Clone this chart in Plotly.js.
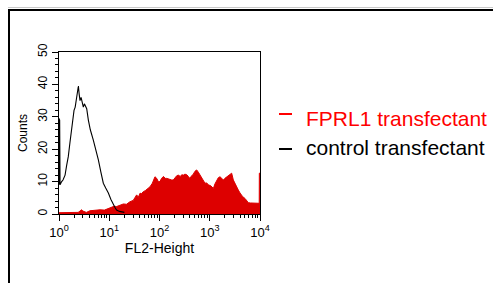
<!DOCTYPE html>
<html>
<head>
<meta charset="utf-8">
<script src="https://cdn.plot.ly/plotly-3.0.1.min.js"></script>
<style>
  html, body { margin: 0; padding: 0; background: #fff; overflow: hidden; }
  #wrap { position: relative; width: 493px; height: 283px; }
  #chart { position: absolute; left: 0; top: 0; width: 493px; height: 283px; }
  #frame { position: absolute; left: 8px; top: 9px; width: 600px; height: 400px;
           border-left: 2px solid #000; border-top: 2px solid #000; pointer-events: none; }
  #shade { position: absolute; left: 8px; top: 7px; width: 600px; height: 1px; background: #c8c8c8; }
</style>
</head>
<body>
<div id="wrap">
  <div id="chart"></div>
  <div id="shade"></div>
  <div id="frame"></div>
</div>
<script>
// Series names
const seriesNames = ['FPRL1 transfectant', 'control transfectant'];

// FPRL1 transfectant (filled red histogram): FL2-Height vs counts
const fprlX = [1, 1.5, 2.0, 2.4, 2.62, 2.8, 3.0, 3.29, 3.5, 4.14, 5.0, 6.55, 8.0, 9.6, 11, 12.5, 14, 16.5, 19.1, 22,
  25.9, 30, 35.1, 38, 40.9, 44, 47.6, 52, 58, 64.7, 72, 77, 81.3, 88, 94.8, 102, 110, 120, 130, 139,
  150, 162, 175, 188, 205, 220, 236, 260, 276, 300, 321, 350, 375, 400, 437, 470, 509, 550, 593, 640,
  690, 745, 804, 870, 937, 1050, 1180, 1270, 1374, 1480, 1600, 1730, 1864, 2000, 2172, 2350, 2531, 2730, 2947, 3200,
  3435, 3700, 4000, 4500, 5027, 5430, 5859, 6500, 7366, 8200, 9250, 9650, 9700, 10000];
const fprlY = [0.4, 0.4, 0.4, 0.5, 0.9, 1.3, 0.9, 0.5, 0.5, 1.0, 1.2, 1.3, 1.2, 1.7, 2.0, 2.4, 2.3, 2.7, 3.1, 3.0,
  3.8, 4.2, 5.9, 5.2, 6.4, 6.3, 6.9, 7.2, 7.8, 8.4, 9.5, 10.6, 11.5, 11.0, 10.0, 10.0, 11.0, 11.6, 11.0, 11.0,
  10.8, 10.5, 10.5, 10.5, 11.4, 11.8, 12.0, 11.6, 12.1, 12.0, 12.3, 12.1, 11.6, 11.0, 11.8, 12.3, 13.2, 13.6, 12.9, 12.0,
  11.0, 10.3, 9.5, 9.6, 9.0, 8.7, 7.9, 9.3, 10.5, 11.2, 11.5, 10.8, 10.5, 11.0, 11.5, 11.8, 12.3, 12.6, 10.5, 9.2,
  8.0, 7.4, 6.5, 5.4, 4.8, 4.3, 3.5, 3.4, 3.3, 3.3, 3.3, 3.3, 12.6, 12.6];

// control transfectant (black outline histogram)
const ctrlX = [1, 1, 1.01, 1.03, 1.05, 1.08, 1.13, 1.2, 1.32, 1.42, 1.53, 1.65, 1.79, 1.9, 1.99, 2.1, 2.2, 2.32, 2.43, 2.52,
  2.62, 2.75, 2.9, 3.05, 3.2, 3.35, 3.56, 3.84, 4.2, 4.82, 5.4, 6.07, 6.8, 7.62, 8.5, 9.6, 10.8, 12.0, 13.0, 14.0, 16, 20];
const ctrlY = [9, 29.5, 12, 29, 9, 9.5, 10, 10.5, 12, 15, 17.7, 22, 27, 30, 32, 33, 35, 36.7, 39.5, 37,
  35, 36, 34.5, 33, 34, 33.5, 32.5, 29, 26, 22.8, 20, 16.7, 13, 9.5, 8, 6.5, 4.5, 2.8, 2, 1.2, 0.8, 0.5];

// Axis ticks
const xTickVals = [1, 10, 100, 1000, 10000];
const xTickText = ['10<sup>0</sup>', '10<sup>1</sup>', '10<sup>2</sup>', '10<sup>3</sup>', '10<sup>4</sup>'];
const yTickVals = [0, 10, 20, 30, 40, 50];

const FONT = 'Liberation Sans, Arial, Helvetica, sans-serif';
const W = 493, H = 283;
const M = { l: 59, r: 233, t: 52, b: 69 };
const pw = W - M.l - M.r, ph = H - M.t - M.b;
const px2paperX = p => (p - M.l) / pw;
const px2paperY = p => (H - M.b - p) / ph;

const minorX = [];
for (let d = 1; d < 10000; d *= 10) for (let k = 2; k <= 9; k++) minorX.push(d * k);

const traces = [
  { x: fprlX, y: fprlY, type: 'scatter', mode: 'lines', name: seriesNames[0],
    line: { color: '#dd0000', width: 1, shape: 'linear' }, fill: 'tozeroy', fillcolor: '#dd0000',
    showlegend: false, hoverinfo: 'skip' },
  { x: ctrlX, y: ctrlY, type: 'scatter', mode: 'lines', name: seriesNames[1],
    line: { color: '#000000', width: 1.1 }, showlegend: false, hoverinfo: 'skip' }
];

const legendItems = [
  { name: seriesNames[0], color: '#ff0000', lineColor: '#ff0000', lineY: 114, textY: 119 },
  { name: seriesNames[1], color: '#000000', lineColor: '#000000', lineY: 149, textY: 147 }
];

const layout = {
  width: W, height: H,
  margin: M,
  paper_bgcolor: '#ffffff', plot_bgcolor: '#ffffff',
  font: { family: FONT, color: '#000' },
  showlegend: false,
  xaxis: {
    type: 'log', range: [0, 4],
    tickmode: 'array', tickvals: xTickVals, ticktext: xTickText,
    ticks: 'outside', ticklen: 6, tickwidth: 1, tickcolor: '#000',
    minor: { tickmode: 'array', tickvals: minorX, ticks: 'outside', ticklen: 3, tickwidth: 1, tickcolor: '#000', showgrid: false },
    showline: true, linecolor: '#000', linewidth: 1, mirror: true,
    showgrid: false, zeroline: false,
    tickfont: { family: FONT, size: 13, color: '#000' },
    title: { text: 'FL2-Height', font: { family: FONT, size: 14, color: '#000' }, standoff: 3 }
  },
  yaxis: {
    range: [0, 50],
    tickmode: 'array', tickvals: yTickVals,
    ticks: 'outside', ticklen: 6, tickwidth: 1, tickcolor: '#000',
    minor: { dtick: 2, ticks: 'outside', ticklen: 3, tickwidth: 1, tickcolor: '#000', showgrid: false },
    tickangle: -90,
    showline: true, linecolor: '#000', linewidth: 1, mirror: true,
    showgrid: false, zeroline: false,
    tickfont: { family: FONT, size: 12, color: '#000' },
    title: { text: 'Counts', font: { family: FONT, size: 12, color: '#000' }, standoff: 6 }
  },
  shapes: legendItems.map(it => ({
    type: 'line', xref: 'paper', yref: 'paper',
    x0: px2paperX(279), x1: px2paperX(292), y0: px2paperY(it.lineY), y1: px2paperY(it.lineY),
    line: { color: it.lineColor, width: 2 }
  })),
  annotations: legendItems.map(it => ({
    xref: 'paper', yref: 'paper', x: px2paperX(304), y: px2paperY(it.textY),
    xanchor: 'left', yanchor: 'middle', showarrow: false,
    text: it.name, font: { family: FONT, size: 21, color: it.color }
  }))
};

Plotly.newPlot('chart', traces, layout, { staticPlot: true, displayModeBar: false });
</script>
</body>
</html>
